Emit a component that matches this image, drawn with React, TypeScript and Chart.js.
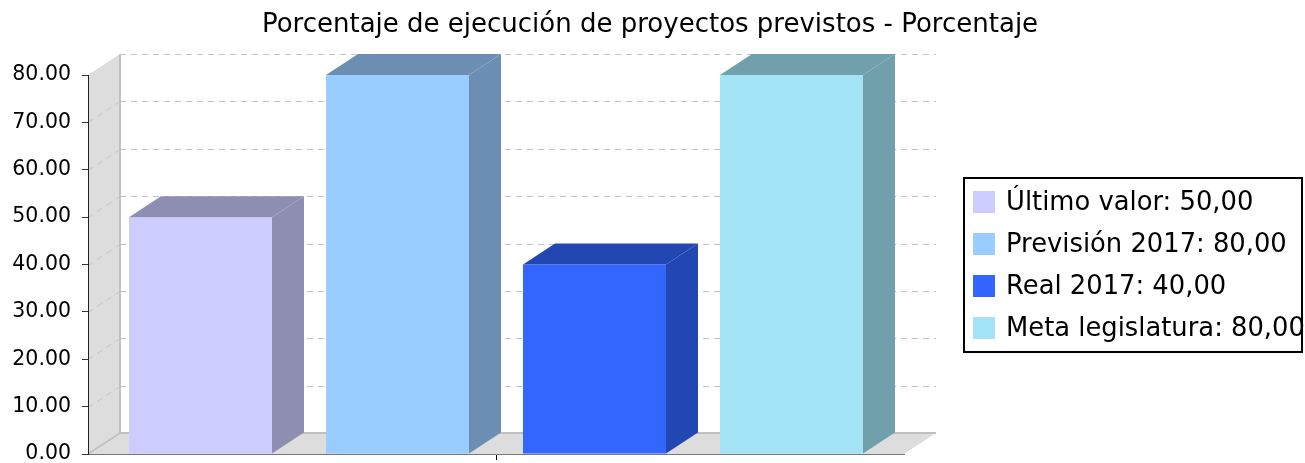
import React, { useEffect, useRef } from "react";
import { Chart, registerables } from "chart.js";

Chart.register(...registerables);

const titleText = "Porcentaje de ejecución de proyectos previstos - Porcentaje";
const categories = [""];
const seriesNames = ["Último valor", "Previsión 2017", "Real 2017", "Meta legislatura"];
const seriesValues = [50, 80, 40, 80];
const seriesColors = ["#CCCCFF", "#99CCFF", "#3366FF", "#A2E4F6"];
const yMin = 0;
const yMax = 80;
const yStep = 10;

const FONT = '"DejaVu Sans", "Liberation Sans", sans-serif';
const DX = 32;
const DY = 21;

function darker(hex: string): string {
  const n = parseInt(hex.slice(1), 16);
  const r = Math.floor(((n >> 16) & 255) * 0.7);
  const g = Math.floor(((n >> 8) & 255) * 0.7);
  const b = Math.floor((n & 255) * 0.7);
  return `rgb(${r},${g},${b})`;
}

const backdrop3D = {
  id: "backdrop3D",
  beforeDraw(chart: any) {
    const { ctx, chartArea } = chart;
    const { left, right, top, bottom } = chartArea;
    const ys = chart.scales.y;
    ctx.save();
    // title
    ctx.fillStyle = "#000";
    ctx.font = `26px ${FONT}`;
    ctx.textAlign = "center";
    ctx.textBaseline = "alphabetic";
    ctx.fillText(titleText, 650, 32);
    // left wall
    ctx.fillStyle = "#dddddd";
    ctx.beginPath();
    ctx.moveTo(left, bottom);
    ctx.lineTo(left, top);
    ctx.lineTo(left + DX, top - DY);
    ctx.lineTo(left + DX, bottom - DY);
    ctx.closePath();
    ctx.fill();
    // floor
    ctx.beginPath();
    ctx.moveTo(left, bottom);
    ctx.lineTo(left + DX, bottom - DY);
    ctx.lineTo(right + DX, bottom - DY);
    ctx.lineTo(right, bottom);
    ctx.closePath();
    ctx.fill();
    // gridlines
    ctx.strokeStyle = "#c4c4c4";
    ctx.lineWidth = 1;
    ctx.setLineDash([6, 5]);
    for (let v = yMin + yStep; v <= yMax; v += yStep) {
      const y = Math.round(ys.getPixelForValue(v)) + 0.5;
      ctx.beginPath();
      ctx.moveTo(left + DX, y - DY);
      ctx.lineTo(right + DX, y - DY);
      ctx.stroke();
      if (v < yMax) {
        ctx.beginPath();
        ctx.moveTo(left, y);
        ctx.lineTo(left + DX, y - DY);
        ctx.stroke();
      }
    }
    ctx.setLineDash([]);
    // back edges
    ctx.strokeStyle = "#c0c0c0";
    ctx.lineWidth = 2;
    ctx.beginPath();
    ctx.moveTo(left + DX, top - DY);
    ctx.lineTo(left + DX, bottom - DY);
    ctx.lineTo(right + DX, bottom - DY);
    ctx.stroke();
    ctx.lineWidth = 1.5;
    ctx.beginPath();
    ctx.moveTo(left, bottom);
    ctx.lineTo(left + DX, bottom - DY);
    ctx.stroke();
    ctx.restore();
  },
  afterDatasetsDraw(chart: any) {
    const { ctx } = chart;
    ctx.save();
    chart.data.datasets.forEach((ds: any, i: number) => {
      const meta = chart.getDatasetMeta(i);
      meta.data.forEach((bar: any) => {
        const x1 = bar.x - bar.width / 2;
        const x2 = bar.x + bar.width / 2;
        const y = bar.y;
        const base = bar.base;
        ctx.fillStyle = darker(ds.backgroundColor);
        ctx.beginPath();
        ctx.moveTo(x1, y);
        ctx.lineTo(x1 + DX, y - DY);
        ctx.lineTo(x2 + DX, y - DY);
        ctx.lineTo(x2, y);
        ctx.closePath();
        ctx.fill();
        ctx.beginPath();
        ctx.moveTo(x2, y);
        ctx.lineTo(x2 + DX, y - DY);
        ctx.lineTo(x2 + DX, base - DY);
        ctx.lineTo(x2, base);
        ctx.closePath();
        ctx.fill();
      });
    });
    ctx.restore();
  },
};

const boxLegend = {
  id: "boxLegend",
  afterDraw(chart: any) {
    const { ctx } = chart;
    const bx = 963, by = 177, bw = 340, bh = 176;
    ctx.save();
    ctx.strokeStyle = "#000";
    ctx.lineWidth = 2;
    ctx.strokeRect(bx + 1, by + 1, bw - 2, bh - 2);
    ctx.font = `25.8px ${FONT}`;
    ctx.textBaseline = "middle";
    ctx.textAlign = "left";
    chart.data.datasets.forEach((ds: any, i: number) => {
      const cy = 202 + i * 42;
      ctx.fillStyle = ds.backgroundColor;
      ctx.fillRect(973, cy - 11, 22, 22);
      ctx.fillStyle = "#000";
      const val = ds.data[0].toFixed(2).replace(".", ",");
      ctx.fillText(`${ds.label}: ${val}`, 1006, cy + 1);
    });
    ctx.restore();
  },
};

export default function App() {
  const ref = useRef<HTMLCanvasElement>(null);
  useEffect(() => {
    if (!ref.current) return;
    const chart = new Chart(ref.current, {
      type: "bar",
      data: {
        labels: categories,
        datasets: seriesNames.map((name, i) => ({
          label: name,
          data: [seriesValues[i]],
          backgroundColor: seriesColors[i],
          borderWidth: 0,
          categoryPercentage: 0.9657,
          barPercentage: 0.7259,
        })),
      },
      options: {
        animation: false,
        responsive: false,
        devicePixelRatio: 1,
        layout: { padding: { left: 0, right: 401, top: 75, bottom: 0 } },
        plugins: {
          legend: { display: false },
          tooltip: { enabled: false },
          title: { display: false },
        },
        scales: {
          x: {
            type: "category",
            offset: true,
            grid: { offset: false, drawOnChartArea: false, drawTicks: true, tickLength: 6, tickColor: "#000" },
            border: { display: true, color: "#777", width: 1 },
            ticks: { display: true, font: { size: 1, lineHeight: 1 } },
            afterFit(scale: any) {
              scale.height = 9;
              scale.paddingLeft = 0;
              scale.paddingRight = 0;
            },
          },
          y: {
            min: yMin,
            max: yMax,
            ticks: {
              stepSize: yStep,
              padding: 11,
              color: "#000",
              font: { family: FONT, size: 20.5 },
              callback: (v: any) => Number(v).toFixed(2),
            },
            grid: { drawOnChartArea: false, drawTicks: true, tickLength: 6, tickColor: "#333" },
            border: { display: true, color: "#222", width: 1 },
            afterFit(scale: any) {
              scale.width = 88;
              scale.paddingTop = 0;
              scale.paddingBottom = 0;
            },
          },
        },
      },
      plugins: [backdrop3D, boxLegend],
    } as any);
    return () => chart.destroy();
  }, []);
  return (
    <div style={{ position: "absolute", left: 0, top: 0, width: 1305, height: 463, background: "#fff" }}>
      <canvas ref={ref} width={1305} height={463} style={{ display: "block", width: 1305, height: 463 }} />
    </div>
  );
}
